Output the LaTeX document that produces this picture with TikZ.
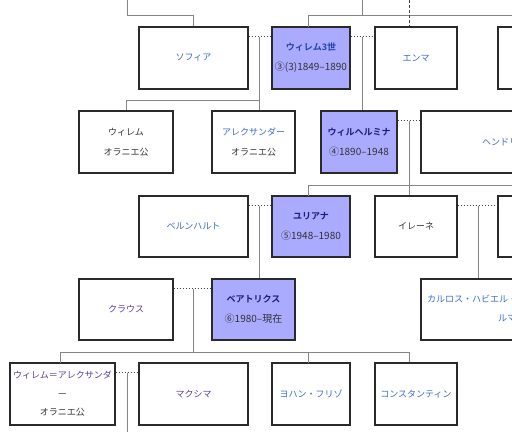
\documentclass[tikz,border=0pt]{standalone}
\usepackage{fontspec}
\newfontfamily\jp{Noto Sans CJK JP}[BoldFont={Noto Sans CJK JP Bold}]
\definecolor{boxc}{HTML}{2A2A2A}
\definecolor{royal}{HTML}{AAAAFF}
\definecolor{linkc}{HTML}{3D6BCC}
\definecolor{visc}{HTML}{5A3D9E}
\definecolor{w3c}{HTML}{2244AA}
\definecolor{navy}{HTML}{1C1C80}
\definecolor{txt}{HTML}{333333}
\definecolor{kinc}{HTML}{858585}
\definecolor{marc}{HTML}{444444}
\newcommand{\yrs}[1]{{\fontsize{10}{20}\selectfont #1}}
\tikzset{
  fam/.style={draw=boxc, line width=1.3pt, inner sep=0pt, minimum height=62pt,
    align=center, text=txt, font=\jp\fontsize{9}{20}\selectfont},
  kin/.style={draw=kinc, line width=1pt},
  marr/.style={draw=marc, line width=0.8pt, dash pattern=on 1.5pt off 1.5pt},
  dashline/.style={draw=marc, line width=0.8pt, dash pattern=on 3pt off 2pt},
  txtnode/.style={inner sep=0pt, font=\jp\fontsize{9}{20}\selectfont}
}
\begin{document}
\begin{tikzpicture}[x=1pt,y=-1pt]
\useasboundingbox (0,0) rectangle (512,432);
\fill[white] (0,0) rectangle (512,432);
\clip (0,0) rectangle (512,432);
% row 1
\node[fam, minimum width=109pt] (sofia) at (193.5,58) {\color{linkc}ソフィア};
\node[fam, fill=royal, minimum width=78pt] (w3) at (311,58) {{\color{w3c}\bfseries ウィレム3世}\\\yrs{③(3)1849–1890}};
\node[fam, minimum width=82pt] (emma) at (416,58) {\color{linkc}エンマ};
\node[fam, minimum width=100pt] (r1) at (548,58) {};
% row 2
\node[fam, minimum width=94pt] (willem) at (126,142) {ウィレム\\オラニエ公};
\node[fam, minimum width=83pt] (alex) at (253.5,142) {{\color{linkc}アレクサンダー}\\オラニエ公};
\node[fam, fill=royal, minimum width=76pt] (wilh) at (359,142) {{\color{navy}\bfseries ウィルヘルミナ}\\\yrs{④1890–1948}};
\node[fam, minimum width=180pt] (hendrik) at (511,142) {};
\node[txtnode, anchor=west, text=linkc] (hendrikT) at (482,142) {ヘンドリック};
% row 3
\node[fam, minimum width=109pt, minimum height=61pt] (bern) at (193.5,226.5) {\color{linkc}ベルンハルト};
\node[fam, fill=royal, minimum width=78pt, minimum height=61pt] (juli) at (311,226.5) {{\color{navy}\bfseries ユリアナ}\\\yrs{⑤1948–1980}};
\node[fam, minimum width=82pt, minimum height=61pt] (irene) at (416,226.5) {イレーネ};
\node[fam, minimum width=100pt, minimum height=61pt] (r3) at (548,226.5) {};
% row 4
\node[fam, minimum width=94pt, minimum height=61pt] (claus) at (126,309.5) {\color{visc}クラウス};
\node[fam, fill=royal, minimum width=83pt, minimum height=61pt] (beat) at (253.5,309.5) {{\color{navy}\bfseries ベアトリクス}\\\yrs{⑥1980–現在}};
\node[fam, minimum width=180pt, minimum height=61pt] (carlos) at (511,309.5) {};
\node[txtnode, anchor=west, text=linkc] (carlosA) at (427,299) {カルロス・ハビエル・};
\node[txtnode, anchor=west, text=linkc] (carlosB) at (498,318) {ルマ};
% row 5
\node[fam, minimum width=105pt, font=\jp\fontsize{9}{18.5}\selectfont] (wa) at (62.5,394) {{\color{visc}ウィレム＝アレクサンダ}\\{\color{visc}ー}\\オラニエ公};
\node[fam, minimum width=109pt] (maxima) at (193.5,394) {\color{visc}マクシマ};
\node[fam, minimum width=78pt] (friso) at (311,394) {\color{linkc}ヨハン・フリゾ};
\node[fam, minimum width=82pt] (const) at (416,394) {\color{linkc}コンスタンティン};
% coordinates
\coordinate (t1) at (127,0);
\coordinate (b1) at (127,15);
\coordinate (t2) at (362,0);
\coordinate (e1) at (512,15);
\coordinate (w3t) at (308,27);
\coordinate (t3) at (409,0);
\coordinate (m1) at (259,37);
\coordinate (b2) at (259,100);
\coordinate (m2) at (362,37);
\coordinate (m3) at (409,121);
\coordinate (e2) at (512,185);
\coordinate (jut) at (308,196);
\coordinate (m4) at (259,206);
\coordinate (m5) at (478,206);
\coordinate (m6) at (193,289);
\coordinate (b6) at (193,352);
\coordinate (wat) at (60,363);
\coordinate (b6e) at (409,352);
\coordinate (frt) at (308,363);
\coordinate (m7) at (127,373);
\coordinate (bot) at (127,432);
% parent lines
\draw[kin] (t1) -- (b1) -| (sofia.north);
\draw[kin] (w3t) |- (e1);
\draw[kin] (t2) -- (t2 |- e1);
\draw[dashline] (t3) -- (t3 |- emma.north);
\draw[kin] (m1) -- (m1 |- alex.north);
\draw[kin] (willem.north) |- (b2);
\draw[kin] (m2) -- (m2 |- wilh.north);
\draw[kin] (m3) -- (m3 |- irene.north);
\draw[kin] (jut) |- (e2);
\draw[kin] (m4) -- (m4 |- beat.north);
\draw[kin] (m5) -- (m5 |- carlos.north);
\draw[kin] (m6) -- (b6);
\draw[kin] (wat) |- (b6e) -- (b6e |- const.north);
\draw[kin] (frt) -- (frt |- b6);
\draw[kin] (m7) -- (bot);
% marriages
\draw[marr] ([yshift=-10pt]sofia.north east) -- ([yshift=-10pt]w3.north west);
\draw[marr] ([yshift=-10pt]w3.north east) -- ([yshift=-10pt]emma.north west);
\draw[marr] ([yshift=-10pt]wilh.north east) -- ([yshift=-10pt]hendrik.north west);
\draw[marr] ([yshift=-10pt]bern.north east) -- ([yshift=-10pt]juli.north west);
\draw[marr] ([yshift=-10pt]irene.north east) -- ([yshift=-10pt]r3.north west);
\draw[marr] ([yshift=-10pt]claus.north east) -- ([yshift=-10pt]beat.north west);
\draw[marr] ([yshift=-10pt]wa.north east) -- ([yshift=-10pt]maxima.north west);
\end{tikzpicture}
\end{document}
